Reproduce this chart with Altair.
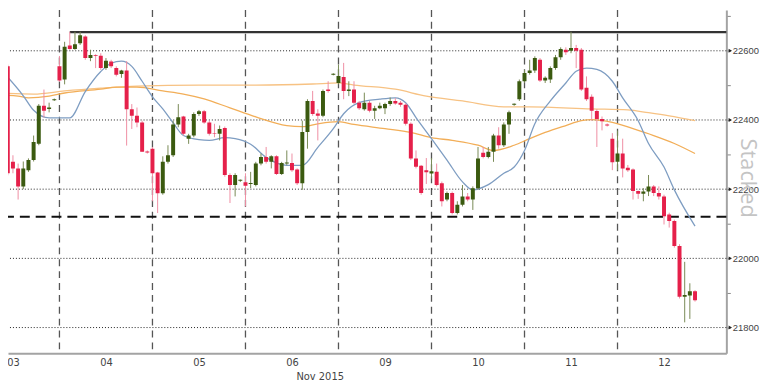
import json
import altair as alt
import pandas as pd

# ---------------- data ----------------
DAY_LABELS = ["03", "04", "05", "06", "09", "10", "11", "12"]
AXIS_TITLE = "Nov 2015"
CANDLES_PER_DAY = 18
FIRST_SLOT = 7            # first visible candle sits in slot 7 of day "03"

OPEN = [22598, 22555, 22279, 22260, 22208, 22255, 22284, 22331, 22441, 22432, 22457,
        22555, 22517, 22615, 22605, 22622, 22641, 22579, 22588, 22586, 22550, 22569, 22550, 22533,
        22543, 22431, 22412, 22393, 22309, 22317, 22248, 22188, 22279, 22298, 22387, 22410, 22346, 22355, 22417, 22425, 22393, 22362, 22360, 22377, 22241, 22212, 22224,
        22220, 22215, 22212, 22274, 22293, 22279, 22295, 22244, 22274, 22276, 22257, 22217, 22365, 22455, 22419, 22412, 22488, 22531,
        22507, 22524, 22484, 22488, 22450, 22431, 22450, 22427, 22434, 22434, 22446, 22455, 22450, 22444, 22389, 22289, 22268,
        22255, 22245, 22250, 22217, 22170, 22189, 22131, 22155, 22179, 22170, 22203, 22305, 22293, 22308, 22355, 22327, 22387, 22444,
        22460, 22512, 22536, 22543, 22574, 22514, 22517, 22550, 22581, 22603, 22600, 22608, 22603, 22493, 22467, 22426, 22403, 22387,
        22346, 22279, 22303, 22262, 22257, 22195, 22187, 22193, 22208, 22189, 22179, 22127, 22108, 22036, 21889, 21893, 21905]
HIGH = [22636, 22560, 22298, 22274, 22280, 22289, 22355, 22446, 22488, 22450, 22462,
        22585, 22626, 22655, 22655, 22655, 22645, 22603, 22590, 22593, 22579, 22574, 22555, 22545,
        22570, 22446, 22436, 22398, 22312, 22322, 22250, 22295, 22327, 22398, 22446, 22412, 22360, 22422, 22429, 22429, 22398, 22389, 22384, 22381, 22246, 22246, 22228,
        22246, 22250, 22279, 22303, 22322, 22298, 22298, 22279, 22312, 22303, 22260, 22398, 22460, 22484, 22431, 22488, 22512, 22535,
        22560, 22565, 22512, 22512, 22455, 22479, 22455, 22441, 22450, 22450, 22465, 22463, 22455, 22448, 22393, 22312, 22270,
        22290, 22290, 22274, 22222, 22193, 22193, 22165, 22212, 22189, 22208, 22322, 22322, 22322, 22360, 22379, 22393, 22427, 22448,
        22517, 22545, 22574, 22584, 22579, 22526, 22555, 22588, 22610, 22610, 22655, 22617, 22608, 22526, 22474, 22431, 22410, 22390,
        22362, 22369, 22346, 22270, 22260, 22196, 22203, 22241, 22212, 22208, 22184, 22132, 22112, 22041, 21990, 21928, 21908]
LOW = [22541, 22240, 22246, 22170, 22200, 22250, 22280, 22327, 22407, 22422, 22455,
       22510, 22503, 22603, 22603, 22617, 22574, 22570, 22550, 22545, 22545, 22550, 22526, 22522,
       22326, 22374, 22379, 22308, 22303, 22165, 22131, 22184, 22274, 22293, 22379, 22355, 22331, 22350, 22412, 22389, 22355, 22350, 22341, 22236, 22160, 22179, 22221,
       22150, 22203, 22208, 22269, 22274, 22260, 22241, 22241, 22269, 22250, 22212, 22198, 22317, 22412, 22341, 22408, 22479, 22529,
       22503, 22460, 22469, 22446, 22429, 22427, 22422, 22403, 22431, 22417, 22441, 22444, 22438, 22384, 22284, 22260, 22184,
       22215, 22230, 22208, 22150, 22165, 22127, 22127, 22150, 22165, 22140, 22198, 22289, 22289, 22279, 22317, 22322, 22360, 22441,
       22455, 22507, 22531, 22536, 22510, 22507, 22507, 22545, 22574, 22588, 22593, 22550, 22484, 22455, 22398, 22322, 22370, 22381,
       22255, 22255, 22234, 22250, 22170, 22172, 22165, 22180, 22180, 22170, 22098, 22089, 22031, 21884, 21815, 21825, 21875]
CLOSE = [22555, 22246, 22260, 22208, 22260, 22284, 22336, 22441, 22427, 22436, 22460,
         22514, 22612, 22605, 22619, 22645, 22579, 22588, 22586, 22550, 22571, 22555, 22531, 22543,
         22431, 22412, 22393, 22308, 22306, 22246, 22188, 22279, 22298, 22387, 22408, 22360, 22355, 22417, 22425, 22393, 22360, 22360, 22374, 22241, 22212, 22241, 22227,
         22210, 22218, 22274, 22293, 22279, 22295, 22244, 22276, 22277, 22255, 22217, 22365, 22455, 22417, 22412, 22484, 22484, 22534,
         22527, 22484, 22488, 22450, 22434, 22450, 22427, 22434, 22441, 22446, 22455, 22448, 22444, 22389, 22289, 22265, 22189,
         22249, 22252, 22212, 22165, 22189, 22131, 22155, 22179, 22170, 22203, 22289, 22293, 22308, 22355, 22327, 22387, 22422, 22447,
         22512, 22536, 22543, 22579, 22514, 22522, 22550, 22581, 22605, 22596, 22608, 22600, 22488, 22460, 22427, 22403, 22396, 22384,
         22278, 22303, 22260, 22255, 22195, 22187, 22193, 22208, 22189, 22179, 22122, 22108, 22036, 21889, 21894, 21905, 21879]

BLUE_K = [0, 4, 6, 9, 13, 16, 19, 21, 23, 25, 27, 29, 31, 33, 35, 38, 40, 43, 45, 48,
          51, 55, 58, 61, 64, 66, 69, 73, 76, 78, 80, 83, 86, 89, 91, 94, 97, 99, 101, 103,
          106, 109, 111, 113, 115, 118, 120, 123, 125, 128, 130, 134]
BLUE_V = [22540, 22470, 22428, 22406, 22406, 22482, 22540, 22564, 22570, 22555, 22512, 22467, 22432, 22392, 22355, 22343, 22341, 22349, 22346, 22330,
          22292, 22269, 22269, 22321, 22375, 22418, 22450, 22460, 22464, 22450, 22407, 22346, 22284, 22221, 22198, 22213, 22246, 22264, 22312, 22389,
          22455, 22507, 22541, 22550, 22546, 22512, 22464, 22398, 22332, 22264, 22198, 22093]

ORANGE_A_K = [-1, 6, 12, 19, 26, 38, 49, 60, 65, 68, 76, 82, 89, 97, 102, 114, 121, 125, 129, 134]
ORANGE_A_V = [22478, 22475, 22484, 22492, 22498, 22501, 22501, 22504, 22507, 22501, 22489, 22469, 22455, 22438, 22438, 22432, 22429, 22421, 22412, 22398]

ORANGE_B_K = [-1, 3, 5, 9, 12, 19, 22, 26, 31, 35, 39, 44, 49, 55, 58, 61, 65, 68, 74, 79,
              83, 87, 92, 95, 99, 102, 105, 109, 112, 114, 118, 122, 126, 130, 134]
ORANGE_B_V = [22472, 22469, 22464, 22469, 22478, 22489, 22495, 22495, 22484, 22475, 22461, 22435, 22409, 22384, 22381, 22389, 22395, 22387, 22375, 22364,
              22349, 22341, 22327, 22312, 22327, 22346, 22364, 22384, 22398, 22401, 22393, 22375, 22355, 22332, 22303]

GRID_LEVELS = [21800, 22000, 22200, 22400, 22600]
TICK_LEVELS = [21800, 21900, 22000, 22100, 22200, 22300, 22400, 22500, 22600, 22700]
SUPPORT_LEVEL = 22120
RESIST_LEVEL = 22654
RESIST_START_K = 13
DAY_BOUNDARIES = [1, 2, 3, 4, 5, 6, 7]
WATERMARK = "Stacked"

# ---------------- scales / styling ----------------
X_DOMAIN = [0.44681, 8.17021]
Y_DOMAIN = [21725.5, 22718]
W, H = 726, 347

RED = "#e5204a"
RED_WICK = "#ef8ea3"
GREEN = "#3b5a10"
GREEN_WICK = "#788a55"
BLUE = "#7e9dc2"
ORANGE_A = "#f7c283"
ORANGE_B = "#f2ae58"
FONT = "DejaVu Sans"

xs = alt.Scale(domain=X_DOMAIN, nice=False, zero=False, padding=0)
ys = alt.Scale(domain=Y_DOMAIN, nice=False, zero=False, padding=0)

T_EXPR = f"({FIRST_SLOT} + datum.k) / {CANDLES_PER_DAY}"

candles = pd.DataFrame({"k": list(range(len(OPEN))), "open": OPEN, "high": HIGH,
                        "low": LOW, "close": CLOSE})

x_axis = alt.Axis(orient="bottom", values=[i + 0.5 for i in range(len(DAY_LABELS))],
                  labelExpr=f"{json.dumps(DAY_LABELS)}[floor(datum.value)]",
                  ticks=False, grid=False, domainColor="#a3a3a3", domainWidth=2,
                  labelPadding=4, labelFont=FONT, labelFontSize=10, labelColor="#444",
                  title=AXIS_TITLE, titleFont=FONT, titleFontSize=10, titleFontWeight="normal",
                  titleColor="#444", titleX=315, titleY=23, titleAlign="center",
                  titleBaseline="middle")
y_axis = alt.Axis(orient="right", values=TICK_LEVELS,
                  labelExpr="datum.value % 200 == 0 ? format(datum.value, 'd') : ''",
                  grid=False, domainColor="#a3a3a3", domainWidth=2, tickColor="#888",
                  tickSize=4, labelPadding=2, labelFont="Liberation Sans", labelFontSize=9.5,
                  labelColor="#444", title=None)


def X(field):
    return alt.X(field, scale=xs, axis=x_axis)


def Y(field):
    return alt.Y(field, scale=ys, axis=y_axis)


# day separators
days = alt.Chart(pd.DataFrame({"d": DAY_BOUNDARIES})).mark_rule(
    color="#555", strokeWidth=1.3, strokeDash=[7, 5]).encode(x=X("d:Q"))

# dotted grid
grid = alt.Chart(pd.DataFrame({"v": GRID_LEVELS})).mark_rule(
    color="#222", strokeWidth=1, strokeDash=[1, 2]).encode(y=Y("v:Q"))

support = alt.Chart(pd.DataFrame({"v": [SUPPORT_LEVEL]})).mark_rule(
    color="#111", strokeWidth=2, strokeDash=[10, 6]).encode(y=Y("v:Q"))

resist = alt.Chart(pd.DataFrame({"k": [RESIST_START_K], "v": [RESIST_LEVEL]})).transform_calculate(
    t=T_EXPR, tend=str(X_DOMAIN[1])).mark_rule(color="#333", strokeWidth=2.5).encode(
    x=X("t:Q"), x2="tend:Q", y=Y("v:Q"))


def ma_line(ks, vs, color):
    return alt.Chart(pd.DataFrame({"k": ks, "v": vs})).transform_calculate(t=T_EXPR).mark_line(
        color=color, strokeWidth=1.3, interpolate="monotone", clip=True).encode(
        x=X("t:Q"), y=Y("v:Q"), order="k:Q")


ora = ma_line(ORANGE_A_K, ORANGE_A_V, ORANGE_A)
orb = ma_line(ORANGE_B_K, ORANGE_B_V, ORANGE_B)
blue = ma_line(BLUE_K, BLUE_V, BLUE)

base = alt.Chart(candles).transform_calculate(t=T_EXPR)
wicks = base.mark_rule(strokeWidth=1, clip=True).encode(
    x=X("t:Q"), y=Y("low:Q"), y2="high:Q",
    color=alt.condition("datum.close >= datum.open", alt.value(GREEN_WICK), alt.value(RED_WICK)))
bodies = base.mark_bar(size=4, clip=True).encode(
    x=X("t:Q"), y=Y("open:Q"), y2="close:Q",
    color=alt.condition("datum.close >= datum.open", alt.value(GREEN), alt.value(RED)))

arrows = alt.Chart(pd.DataFrame({"v": GRID_LEVELS})).mark_point(
    shape="triangle-right", filled=True, size=16, color="#222", opacity=1).encode(
    x=alt.value(W + 4), y=Y("v:Q"))

mark_text = alt.Chart(pd.DataFrame({"s": [WATERMARK]})).mark_text(
    angle=90, fontSize=22, font="Open Sans", color="#c4c4c4", align="center",
    baseline="alphabetic").encode(x=alt.value(W + 15), y=alt.value(170), text="s:N")

chart = alt.layer(days, grid, support, resist, ora, orb, blue, wicks, bodies, arrows, mark_text).properties(
    width=W, height=H,
    autosize=alt.AutoSizeParams(type="none"),
    padding={"left": 0, "top": 0, "right": 34, "bottom": 28},
    background="white",
).configure_view(stroke=None)

chart.save("out.html", embed_options={"renderer": "svg", "actions": False})
